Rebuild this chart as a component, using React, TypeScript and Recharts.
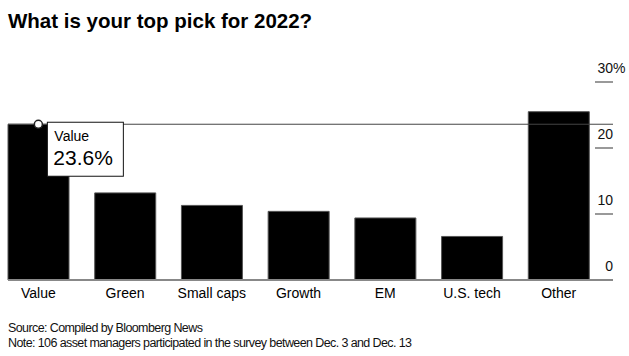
import { Bar, BarChart, ReferenceDot, ReferenceLine, XAxis, YAxis } from "recharts";

const categories = ["Value", "Green", "Small caps", "Growth", "EM", "U.S. tech", "Other"];
const shares = [23.6, 13.2, 11.3, 10.4, 9.4, 6.6, 25.5];
const yTicks = [0, 10, 20, 30];
const highlight = { name: "Value", value: 23.6 };

const data = categories.map((name, i) => ({ name, share: shares[i] }));

const FONT = "'Liberation Sans', Arial, Helvetica, sans-serif";

function RightTick(props: any) {
  const { y, payload } = props;
  const v = payload.value;
  return (
    <g>
      {v !== 0 && <line x1={600} x2={618} y1={y} y2={y} stroke="#777" strokeWidth={1.5} />}
      <text x={618} y={y - 9} textAnchor="end" fontSize={14} fill="#111" fontFamily={FONT}>
        {v}
      </text>
      {v === 30 && (
        <text x={618} y={y - 9} textAnchor="start" fontSize={14} fill="#111" fontFamily={FONT}>
          %
        </text>
      )}
    </g>
  );
}

function Callout(props: any) {
  const { cx, cy } = props;
  return (
    <g fontFamily={FONT}>
      <rect x={cx + 9} y={cy - 2} width={76} height={54} fill="#fff" stroke="#111" strokeWidth={1} />
      <text x={cx + 16} y={cy + 17} fontSize={14} fill="#000">
        {highlight.name}
      </text>
      <text x={cx + 15} y={cy + 41} fontSize={21} fill="#000">
        {highlight.value}%
      </text>
      <circle cx={cx} cy={cy} r={4} fill="#fff" stroke="#222" strokeWidth={1.5} />
    </g>
  );
}

export default function App() {
  return (
    <div style={{ position: "absolute", left: 0, top: 0, width: 629, height: 356, background: "#fff", fontFamily: FONT }}>
      <div style={{ position: "absolute", left: 8, top: 9, fontSize: 20.5, fontWeight: 700, color: "#000", whiteSpace: "nowrap" }}>
        What is your top pick for 2022?
      </div>
      <div style={{ position: "absolute", left: -5, top: 0 }}>
        <BarChart width={634} height={356} data={data} margin={{ top: 82, right: 0, bottom: 46, left: 0 }} barCategoryGap="15%">
          <XAxis
            dataKey="name"
            axisLine={false}
            tickLine={false}
            height={30}
            interval={0}
            tick={{ fill: "#000", fontSize: 14, fontFamily: FONT }}
          />
          <YAxis
            orientation="right"
            width={27}
            domain={[0, 30]}
            ticks={yTicks}
            axisLine={false}
            tickLine={false}
            tick={<RightTick />}
          />
          <Bar dataKey="share" fill="#000" stroke="#555" strokeWidth={1} isAnimationActive={false} />
          <ReferenceLine
            y={0}
            shape={(p: any) => <line x1={13} x2={618} y1={p.y1} y2={p.y2} stroke="#888" strokeWidth={2} />}
          />
          <ReferenceLine
            y={highlight.value}
            shape={(p: any) => <line x1={13} x2={618} y1={p.y1} y2={p.y2} stroke="#444" strokeWidth={1} />}
          />
          <ReferenceDot x={highlight.name} y={highlight.value} shape={<Callout />} />
        </BarChart>
      </div>
      <div
        style={{
          position: "absolute",
          left: 8,
          top: 321,
          fontSize: 12.5,
          letterSpacing: -0.6,
          lineHeight: "15px",
          color: "#111",
          whiteSpace: "nowrap",
        }}
      >
        Source: Compiled by Bloomberg News
        <br />
        Note: 106 asset managers participated in the survey between Dec. 3 and Dec. 13
      </div>
    </div>
  );
}
